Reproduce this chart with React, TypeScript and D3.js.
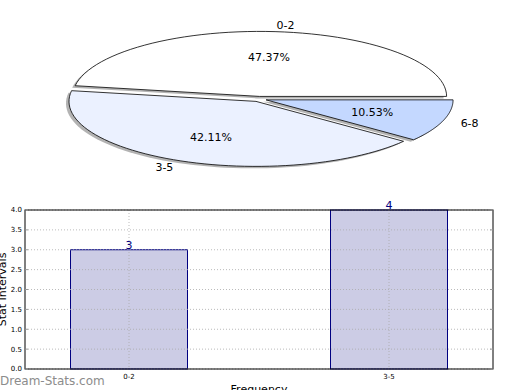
import { useEffect, useRef } from 'react';
import * as d3 from 'd3';

const pieLabels = ['0-2', '3-5', '6-8'];
const pieCounts = [9, 8, 2];
const pieColors = ['#ffffff', '#ebf1ff', '#c4d8ff'];

const barCategories = ['0-2', '3-5'];
const barValues = [3, 4];
const yTicks = [0, 0.5, 1, 1.5, 2, 2.5, 3, 3.5, 4];

export default function App() {
  const svgRef = useRef<SVGSVGElement>(null);

  useEffect(() => {
    if (!svgRef.current) return;
    const svg = d3.select(svgRef.current);
    svg.selectAll('*').remove();
    const font = 'DejaVu Sans, sans-serif';

    // ---- pie (matplotlib style, squashed into an ellipse) ----
    const cx = 259;
    const cy = 99;
    const rx = 187;
    const ry = 65;
    const explode = 0.04;
    const total = d3.sum(pieCounts);
    const slices: { start: number; end: number }[] = [];
    let acc = 0;
    pieCounts.forEach(v => {
      const a0 = (acc / total) * 2 * Math.PI;
      acc += v;
      slices.push({ start: a0, end: (acc / total) * 2 * Math.PI });
    });

    const pt = (ox: number, oy: number, a: number, r: number) => [
      ox + rx * r * Math.cos(a),
      oy - ry * r * Math.sin(a),
    ];

    const slicePath = (ox: number, oy: number, s: { start: number; end: number }) => {
      const steps = d3.range(0, 61).map(i => s.start + ((s.end - s.start) * i) / 60);
      const pts = steps.map(a => pt(ox, oy, a, 1));
      return `M${ox},${oy}L` + pts.map(p => `${p[0]},${p[1]}`).join('L') + 'Z';
    };

    const pie = svg.append('g');
    slices.forEach((s, i) => {
      const mid = (s.start + s.end) / 2;
      const ox = cx + rx * explode * Math.cos(mid);
      const oy = cy - ry * explode * Math.sin(mid);
      pie.append('path')
        .attr('d', slicePath(ox - 3, oy + 2, s))
        .attr('fill', '#808080')
        .attr('opacity', 0.6);
      pie.append('path')
        .attr('d', slicePath(ox, oy, s))
        .attr('fill', pieColors[i])
        .attr('stroke', '#000')
        .attr('stroke-width', 0.8)
        .attr('stroke-linejoin', 'round');
    });

    slices.forEach((s, i) => {
      const mid = (s.start + s.end) / 2;
      const ox = cx + rx * explode * Math.cos(mid);
      const oy = cy - ry * explode * Math.sin(mid);
      const [lx, ly] = pt(ox, oy, mid, 1.1);
      const anchor = Math.cos(mid) >= 0 ? 'start' : 'end';
      pie.append('text')
        .attr('x', lx)
        .attr('y', ly)
        .attr('dy', '0.35em')
        .attr('text-anchor', anchor)
        .attr('font-family', font)
        .attr('font-size', 11)
        .text(pieLabels[i]);
      const [px, py] = pt(ox, oy, mid, 0.6);
      pie.append('text')
        .attr('x', px)
        .attr('y', py)
        .attr('dy', '0.35em')
        .attr('text-anchor', 'middle')
        .attr('font-family', font)
        .attr('font-size', 11)
        .text(((pieCounts[i] / total) * 100).toFixed(2) + '%');
    });

    // ---- bar chart ----
    const left = 25;
    const right = 493;
    const top = 210;
    const bottom = 369;
    const x = d3.scaleLinear().domain([-0.4, 1.4]).range([left, right]);
    const y = d3.scaleLinear().domain([0, 4]).range([bottom, top]);
    const barW = 0.45;

    const g = svg.append('g');

    g.selectAll('.bar')
      .data(barValues)
      .join('rect')
      .attr('x', (_, i) => x(i - barW / 2))
      .attr('y', d => y(d))
      .attr('width', x(barW) - x(0))
      .attr('height', d => y(0) - y(d))
      .attr('fill', '#cccce5')
      .attr('stroke', '#000080')
      .attr('stroke-width', 1);

    // grid
    yTicks.forEach(t => {
      g.append('line')
        .attr('x1', left).attr('x2', right)
        .attr('y1', y(t)).attr('y2', y(t))
        .attr('stroke', '#aaa')
        .attr('stroke-width', 0.8)
        .attr('stroke-dasharray', '1,2');
    });
    barCategories.forEach((_, i) => {
      g.append('line')
        .attr('x1', x(i)).attr('x2', x(i))
        .attr('y1', top).attr('y2', bottom)
        .attr('stroke', '#aaa')
        .attr('stroke-width', 0.8)
        .attr('stroke-dasharray', '1,2');
    });

    g.append('rect')
      .attr('x', left).attr('y', top)
      .attr('width', right - left).attr('height', bottom - top)
      .attr('fill', 'none')
      .attr('stroke', '#000')
      .attr('stroke-width', 1);

    // ticks + labels
    yTicks.forEach(t => {
      g.append('line')
        .attr('x1', left).attr('x2', left + 3)
        .attr('y1', y(t)).attr('y2', y(t))
        .attr('stroke', '#999');
      g.append('line')
        .attr('x1', right - 3).attr('x2', right)
        .attr('y1', y(t)).attr('y2', y(t))
        .attr('stroke', '#999');
      g.append('text')
        .attr('x', left - 3)
        .attr('y', y(t))
        .attr('dy', '0.35em')
        .attr('text-anchor', 'end')
        .attr('font-family', font)
        .attr('font-size', 7)
        .text(t.toFixed(1));
    });
    barCategories.forEach((c, i) => {
      g.append('text')
        .attr('x', x(i))
        .attr('y', bottom + 10)
        .attr('text-anchor', 'middle')
        .attr('font-family', font)
        .attr('font-size', 7)
        .text(c);
      g.append('text')
        .attr('x', x(i))
        .attr('y', y(barValues[i]) - 1)
        .attr('text-anchor', 'middle')
        .attr('font-family', font)
        .attr('font-size', 11)
        .attr('fill', '#000080')
        .text(String(barValues[i]));
    });

    g.append('text')
      .attr('transform', `translate(6,${(top + bottom) / 2}) rotate(-90)`)
      .attr('text-anchor', 'middle')
      .attr('font-family', font)
      .attr('font-size', 11)
      .text('Stat Intervals');

    g.append('text')
      .attr('x', (left + right) / 2)
      .attr('y', 393)
      .attr('text-anchor', 'middle')
      .attr('font-family', font)
      .attr('font-size', 11)
      .text('Frequency');

    svg.append('text')
      .attr('x', 0)
      .attr('y', 385)
      .attr('font-family', font)
      .attr('font-size', 12)
      .attr('fill', '#8c8c8c')
      .text('Dream-Stats.com');
  }, []);

  return (
    <div style={{ position: 'fixed', left: 0, top: 0, width: 520, height: 390, background: '#fff' }}>
      <svg ref={svgRef} width={520} height={390} style={{ display: 'block' }} />
    </div>
  );
}
